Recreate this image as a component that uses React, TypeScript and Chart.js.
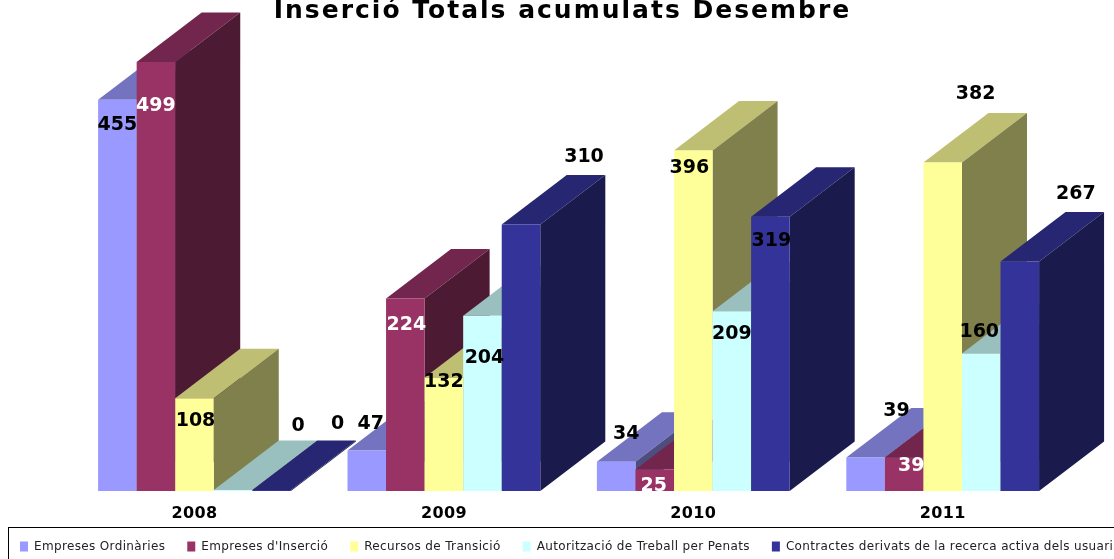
import React, { useEffect, useRef } from "react";
import { Chart, registerables } from "chart.js";

Chart.register(...registerables);

const categories = ["2008", "2009", "2010", "2011"];
const titleText = "Inserció Totals acumulats Desembre";
const empresesOrdinaries = [455, 47, 34, 39];
const empresesInsercio = [499, 224, 25, 39];
const recursosTransicio = [108, 132, 396, 382];
const autoritzacio = [0, 204, 209, 160];
const contractes = [0, 310, 319, 267];

const seriesNames = [
  "Empreses Ordinàries",
  "Empreses d'Inserció",
  "Recursos de Transició",
  "Autorització de Treball per Penats",
  "Contractes derivats de la recerca activa dels usuaris",
];
const seriesValues = [empresesOrdinaries, empresesInsercio, recursosTransicio, autoritzacio, contractes];
const seriesColors = ["#9999ff", "#993366", "#ffff99", "#ccffff", "#333399"];

const DEPTH_X = 65;
const DEPTH_Y = 49.5;
const FONT = "'DejaVu Sans', sans-serif";
const SPACING = "0.35px";

// label offset from the top centre of each bar, [dx, dy], per series then per category
const labelOffsets: number[][][] = [
  [[0, 25], [4, -27], [10, -28], [31, -46]],
  [[0, 44], [1, 27], [-1, 17], [7, 9]],
  [[1, 23], [0, 5], [-4, 17], [33, -69]],
  [[65, -64], [2, 42], [0, 23], [-2, -21]],
  [[66, -66], [63, -67], [1, 24], [56, -67]],
];

function shade(hex: string, f: number) {
  const n = parseInt(hex.slice(1), 16);
  const c = [(n >> 16) & 255, (n >> 8) & 255, n & 255].map((v) => Math.round(v * f));
  return `rgb(${c[0]},${c[1]},${c[2]})`;
}

const bars3d = {
  id: "bars3d",
  beforeUpdate(chart: any) {
    (chart.ctx as any).letterSpacing = SPACING;
  },
  afterLayout(chart: any) {
    chart.legend.top = 518.5;
    const t = chart.titleBlock;
    t.left = 11;
    t.right = 1114;
    if (!t.__wrapped) {
      t.__wrapped = true;
      const orig = t.draw.bind(t);
      t.draw = () => {
        (chart.ctx as any).letterSpacing = "2px";
        orig();
        (chart.ctx as any).letterSpacing = SPACING;
      };
    }
  },
  beforeDraw(chart: any) {
    const ctx = chart.ctx;
    (ctx as any).letterSpacing = SPACING;
    ctx.save();
    ctx.strokeStyle = "#000";
    ctx.lineWidth = 1;
    ctx.strokeRect(8.5, 527.5, 1300, 100);
    ctx.restore();
  },
  beforeDatasetsDraw(chart: any) {
    const ctx = chart.ctx;
    seriesValues.forEach((_, i) => {
      const meta = chart.getDatasetMeta(i);
      meta.data.forEach((el: any) => {
        const left = el.x - el.width / 2;
        const right = el.x + el.width / 2;
        const top = el.y;
        const bottom = el.base;
        ctx.fillStyle = shade(seriesColors[i], 0.75);
        ctx.beginPath();
        ctx.moveTo(left, top);
        ctx.lineTo(left + DEPTH_X, top - DEPTH_Y);
        ctx.lineTo(right + DEPTH_X, top - DEPTH_Y);
        ctx.lineTo(right, top);
        ctx.closePath();
        ctx.fill();
        ctx.fillStyle = shade(seriesColors[i], 0.5);
        ctx.beginPath();
        ctx.moveTo(right, top);
        ctx.lineTo(right + DEPTH_X, top - DEPTH_Y);
        ctx.lineTo(right + DEPTH_X, bottom - DEPTH_Y);
        ctx.lineTo(right, bottom);
        ctx.closePath();
        ctx.fill();
        el.draw(ctx);
      });
    });
    ctx.save();
    (ctx as any).letterSpacing = "0px";
    ctx.font = `bold 19px ${FONT}`;
    ctx.textAlign = "center";
    ctx.textBaseline = "middle";
    seriesValues.forEach((vals, i) => {
      const meta = chart.getDatasetMeta(i);
      meta.data.forEach((el: any, j: number) => {
        const [dx, dy] = labelOffsets[i][j];
        ctx.fillStyle = i === 1 ? "#fff" : "#000";
        ctx.fillText(String(vals[j]), el.x + dx, el.y + dy);
      });
    });
    ctx.restore();
    return false;
  },
};

export default function App() {
  const ref = useRef<HTMLCanvasElement>(null);
  useEffect(() => {
    document.body.style.margin = "0";
    document.documentElement.style.overflow = "hidden";
    const chart = new Chart(ref.current!, {
      type: "bar",
      data: {
        labels: categories,
        datasets: seriesNames.map((name, i) => ({
          label: name,
          data: seriesValues[i],
          backgroundColor: seriesColors[i],
          borderWidth: 0,
          minBarLength: 1,
          barPercentage: 1,
          categoryPercentage: 0.773,
        })),
      },
      options: {
        animation: false,
        responsive: false,
        layout: { padding: { left: -2, right: -60, top: 1, bottom: -23 } },
        scales: {
          x: {
            grid: { display: false },
            border: { display: false },
            ticks: { color: "#000", padding: 5, font: { family: FONT, size: 16, weight: "bold" } },
            afterFit(s: any) {
              s.height = 47;
            },
          },
          y: {
            min: 0,
            max: 570,
            grid: { display: false },
            border: { display: false },
            ticks: { display: false },
            afterFit(s: any) {
              s.width = 71.8;
            },
          },
          yHidden: {
            position: "right",
            min: 0,
            max: 570,
            grid: { display: false },
            border: { display: false },
            ticks: { display: false },
            afterFit(s: any) {
              s.width = 106.6;
            },
          },
        },
        plugins: {
          title: {
            display: true,
            text: titleText,
            color: "#000",
            font: { family: FONT, size: 25, weight: "bold", lineHeight: 1.2 },
            padding: { top: -5, bottom: -25 },
          },
          legend: {
            position: "bottom",
            align: "start",
            labels: {
              color: "#222",
              boxWidth: 8,
              boxHeight: 10,
              padding: 22,
              font: { family: FONT, size: 12 },
            },
          },
          tooltip: { enabled: false },
        },
      },
      plugins: [bars3d],
    } as any);
    return () => chart.destroy();
  }, []);
  return <canvas ref={ref} width={1114} height={559} style={{ display: "block" }} />;
}
